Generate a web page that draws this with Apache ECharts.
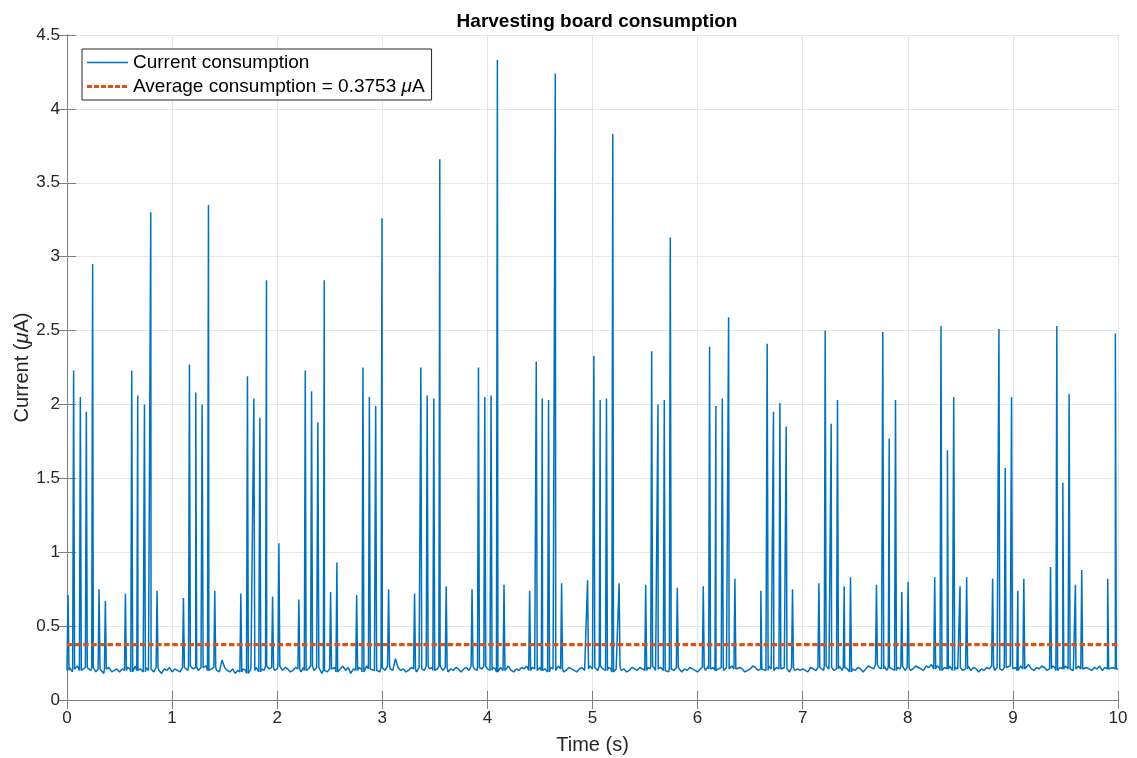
<!DOCTYPE html>
<html>
<head>
<meta charset="utf-8">
<script src="https://cdn.jsdelivr.net/npm/echarts@6/dist/echarts.min.js"></script>
<style>
html,body{margin:0;padding:0;background:#fff;}
#chart{width:1137px;height:758px;}
</style>
</head>
<body>
<div id="chart"></div>
<script>
// ---- Data ----
const averageValue = 0.3753;
const xTicks = [0,1,2,3,4,5,6,7,8,9,10];
const yTicks = [0,0.5,1,1.5,2,2.5,3,3.5,4,4.5];

// baseline (noise floor) samples, every 0.025 s from 0 to 10 s
const baseStep = 0.025;
const baseline = [
0.20,0.22,0.19,0.21,0.23,0.20,0.19,0.22,0.21,0.20,
0.22,0.19,0.21,0.20,0.18,0.21,0.22,0.19,0.20,0.21,
0.19,0.21,0.20,0.22,0.21,0.19,0.23,0.20,0.21,0.19,
0.22,0.20,0.21,0.19,0.22,0.20,0.18,0.21,0.20,0.22,
0.19,0.21,0.20,0.19,0.22,0.21,0.20,0.23,0.21,0.22,
0.20,0.22,0.21,0.23,0.20,0.21,0.22,0.20,0.19,0.27,
0.22,0.20,0.19,0.21,0.18,0.20,0.19,0.21,0.20,0.18,
0.21,0.20,0.22,0.19,0.21,0.20,0.23,0.21,0.22,0.20,
0.21,0.23,0.20,0.22,0.21,0.19,0.20,0.22,0.21,0.19,
0.22,0.20,0.21,0.23,0.20,0.22,0.21,0.18,0.20,0.19,
0.21,0.20,0.22,0.19,0.21,0.23,0.20,0.22,0.18,0.21,
0.20,0.22,0.21,0.19,0.23,0.21,0.22,0.20,0.21,0.19,
0.22,0.20,0.23,0.21,0.20,0.28,0.22,0.20,0.21,0.19,
0.20,0.22,0.21,0.19,0.22,0.21,0.20,0.23,0.21,0.22,
0.20,0.21,0.23,0.20,0.22,0.19,0.21,0.20,0.22,0.21,
0.19,0.21,0.22,0.20,0.23,0.21,0.20,0.22,0.21,0.23,
0.21,0.20,0.22,0.21,0.19,0.22,0.20,0.21,0.23,0.20,
0.19,0.21,0.20,0.22,0.21,0.23,0.20,0.22,0.21,0.20,
0.22,0.20,0.21,0.19,0.22,0.21,0.20,0.23,0.21,0.19,
0.20,0.22,0.21,0.20,0.19,0.21,0.22,0.20,0.21,0.23,
0.21,0.22,0.20,0.23,0.21,0.20,0.22,0.21,0.19,0.21,
0.22,0.20,0.21,0.19,0.20,0.22,0.21,0.20,0.22,0.21,
0.20,0.22,0.21,0.23,0.20,0.21,0.22,0.20,0.21,0.19,
0.21,0.20,0.22,0.21,0.19,0.21,0.20,0.22,0.21,0.20,
0.19,0.21,0.22,0.20,0.23,0.21,0.22,0.20,0.21,0.22,
0.20,0.22,0.21,0.23,0.21,0.20,0.22,0.21,0.19,0.20,
0.21,0.23,0.22,0.20,0.21,0.22,0.20,0.23,0.21,0.20,
0.22,0.21,0.20,0.22,0.21,0.19,0.22,0.20,0.21,0.20,
0.21,0.20,0.19,0.22,0.21,0.20,0.22,0.21,0.20,0.23,
0.21,0.22,0.20,0.21,0.23,0.20,0.22,0.21,0.19,0.21,
0.20,0.22,0.21,0.19,0.21,0.23,0.22,0.21,0.24,0.22,
0.21,0.23,0.20,0.22,0.21,0.20,0.22,0.21,0.23,0.20,
0.22,0.20,0.21,0.23,0.22,0.21,0.20,0.23,0.22,0.24,
0.21,0.23,0.22,0.20,0.22,0.21,0.23,0.20,0.22,0.21,
0.22,0.20,0.21,0.23,0.20,0.22,0.21,0.19,0.21,0.20,
0.22,0.21,0.23,0.20,0.22,0.21,0.20,0.22,0.21,0.23,
0.21,0.22,0.20,0.23,0.21,0.22,0.24,0.21,0.20,0.22,
0.21,0.23,0.22,0.20,0.21,0.23,0.22,0.20,0.22,0.21,
0.23,0.21,0.22,0.20,0.21,0.23,0.21,0.20,0.22,0.21,
0.20,0.22,0.21,0.23,0.20,0.22,0.21,0.20,0.22,0.21,
0.21
];

// spike peak times (s)
const spikeTimes = [
0.010,0.063,0.127,0.184,0.244,0.305,0.365,
0.556,0.616,0.673,0.737,0.797,0.857,
1.108,1.165,1.225,1.286,1.346,1.406,
1.654,1.717,1.778,1.835,1.898,1.956,2.016,
2.206,2.267,2.327,2.387,2.448,2.508,2.568,
2.756,2.816,2.877,2.937,2.997,3.060,
3.307,3.367,3.427,3.490,3.547,3.608,
3.854,3.915,3.975,4.035,4.095,4.158,
4.402,4.465,4.522,4.582,4.646,4.706,
4.953,5.013,5.073,5.133,5.193,5.253,
5.506,5.563,5.623,5.683,5.740,5.807,
6.054,6.114,6.174,6.235,6.295,6.355,
6.602,6.662,6.722,6.783,6.843,6.903,
7.154,7.214,7.271,7.331,7.395,7.455,
7.702,7.762,7.823,7.883,7.943,8.003,
8.256,8.316,8.377,8.437,8.497,8.560,
8.807,8.867,8.927,8.987,9.047,9.104,
9.358,9.418,9.475,9.535,9.595,9.655,
9.902,9.975
];
// spike peak values (µA)
const spikePeaks = [
0.71,2.23,2.05,1.95,2.95,0.75,0.67,
0.72,2.23,2.06,2.00,3.30,0.74,
0.69,2.27,2.08,2.00,3.35,0.74,
0.72,2.19,2.04,1.91,2.84,0.70,1.06,
0.68,2.23,2.09,1.88,2.84,0.73,0.93,
0.71,2.25,2.05,1.99,3.26,0.75,
0.72,2.25,2.06,2.04,3.66,0.77,
0.75,2.25,2.05,2.06,4.33,0.78,
0.74,2.29,2.04,2.03,4.24,0.79,
0.81,2.33,2.03,2.04,3.83,0.79,
0.78,2.36,2.00,2.03,3.13,0.76,
0.77,2.39,1.99,2.04,2.59,0.82,
0.74,2.41,1.95,2.01,1.85,0.75,
0.79,2.50,1.87,2.03,0.77,0.83,
0.78,2.49,1.77,2.03,0.73,0.80,
0.83,2.53,1.69,2.05,0.77,0.83,
0.82,2.51,1.57,2.05,0.74,0.82,
0.90,2.53,1.47,2.07,0.78,0.88,
0.82,2.48
];

const seriesNames = ['Current consumption', 'Average consumption = 0.3753 μA'];

// ---- Build the polyline from the arrays ----
const halfWidth = 0.009;
const pts = [];
baseline.forEach((v, i) => pts.push([+(i * baseStep).toFixed(3), v]));
spikeTimes.forEach((t, i) => {
  const foot = baseline[Math.min(baseline.length - 1, Math.round(t / baseStep))];
  pts.push([Math.max(0, t - halfWidth), foot]);
  pts.push([t, spikePeaks[i]]);
  pts.push([Math.min(10, t + halfWidth), foot]);
});
pts.sort((a, b) => a[0] - b[0]);

const FONT = '"Liberation Sans", Arial, Helvetica, sans-serif';
const TXT = '#262626';
const BOX = '#808080';
const BLUE = '#0072BD';
const ORANGE = '#D95319';

// legend icons (41 x 14 boxes)
const solidIcon = 'path://M0,0M41,14M0,6.2h41v1.6h-41z';
const dashIcon = 'path://M0,0M41,14M0,5.5h5v3h-5zM7,5.5h5v3h-5zM14,5.5h5v3h-5zM21,5.5h5v3h-5zM28,5.5h5v3h-5zM35,5.5h5v3h-5z';

const chart = echarts.init(document.getElementById('chart'), null, {renderer: 'canvas'});
chart.setOption({
  animation: false,
  backgroundColor: '#fff',
  title: {
    text: 'Harvesting board consumption',
    left: 592, top: 7, textAlign: 'center',
    textStyle: {fontFamily: FONT, fontSize: 19, fontWeight: 'bold', color: '#000'}
  },
  legend: {
    orient: 'vertical', left: 82, top: 49,
    padding: [4, 7, 4, 5], itemGap: 5,
    itemWidth: 41, itemHeight: 14,
    borderColor: '#262626', borderWidth: 1, backgroundColor: '#fff',
    itemStyle: {borderWidth: 0},
    data: [{name: seriesNames[0], icon: solidIcon}, {name: seriesNames[1], icon: dashIcon}],
    formatter: function (name) {
      if (name === seriesNames[1]) return '{n|Average consumption = 0.3753 }{i|μ}{n|A}';
      return '{n|' + name + '}';
    },
    textStyle: {
      fontFamily: FONT, fontSize: 19, color: '#000',
      rich: {
        n: {fontFamily: FONT, fontSize: 19, color: '#000'},
        i: {fontFamily: FONT, fontSize: 19, color: '#000', fontStyle: 'italic'}
      }
    }
  },
  grid: {left: 67, right: 19, top: 35, bottom: 58, containLabel: false, outerBoundsMode: 'none'},
  xAxis: [{
    type: 'value', min: xTicks[0], max: xTicks[xTicks.length - 1], interval: 1,
    name: 'Time (s)', nameLocation: 'middle', nameGap: 35, nameMoveOverlap: false,
    nameTextStyle: {fontFamily: FONT, fontSize: 20, color: TXT},
    axisLine: {show: true, lineStyle: {color: BOX, width: 1}},
    axisTick: {show: true, inside: true, length: 9, lineStyle: {color: BOX}},
    axisLabel: {fontFamily: FONT, fontSize: 17, color: TXT, margin: 10},
    splitLine: {show: true, lineStyle: {color: '#e6e6e6', width: 1}}
  }, {
    type: 'value', position: 'top', min: xTicks[0], max: xTicks[xTicks.length - 1], interval: 1,
    axisLine: {show: true, lineStyle: {color: BOX, width: 1}},
    axisTick: {show: true, inside: true, length: 9, lineStyle: {color: BOX}},
    axisLabel: {show: false}, splitLine: {show: false}
  }],
  yAxis: [{
    type: 'value', min: yTicks[0], max: yTicks[yTicks.length - 1], interval: 0.5,
    name: '{n|Current (}{i|μ}{n|A)}', nameLocation: 'middle', nameGap: 35, nameMoveOverlap: false,
    nameTextStyle: {
      fontFamily: FONT, fontSize: 20, color: TXT,
      rich: {
        n: {fontFamily: FONT, fontSize: 20, color: TXT},
        i: {fontFamily: FONT, fontSize: 20, color: TXT, fontStyle: 'italic'}
      }
    },
    axisLine: {show: true, lineStyle: {color: BOX, width: 1}},
    axisTick: {show: true, inside: true, length: 9, lineStyle: {color: BOX}},
    axisLabel: {fontFamily: FONT, fontSize: 17, color: TXT, margin: 7},
    splitLine: {show: true, lineStyle: {color: '#e6e6e6', width: 1}}
  }, {
    type: 'value', position: 'right', min: yTicks[0], max: yTicks[yTicks.length - 1], interval: 0.5,
    axisLine: {show: true, lineStyle: {color: BOX, width: 1}},
    axisTick: {show: true, inside: true, length: 9, lineStyle: {color: BOX}},
    axisLabel: {show: false}, splitLine: {show: false}
  }],
  series: [{
    name: seriesNames[0], type: 'line', data: pts,
    xAxisIndex: 0, yAxisIndex: 0,
    symbol: 'none', showSymbol: false, sampling: 'none',
    lineStyle: {color: BLUE, width: 1.5},
    itemStyle: {color: BLUE, borderWidth: 0},
    z: 3
  }, {
    name: seriesNames[1], type: 'line',
    data: [[xTicks[0], averageValue], [xTicks[xTicks.length - 1], averageValue]],
    xAxisIndex: 0, yAxisIndex: 0,
    symbol: 'none', showSymbol: false,
    lineStyle: {color: ORANGE, width: 3.2, type: [5.5, 2.6]},
    itemStyle: {color: ORANGE, borderWidth: 0},
    z: 4
  }]
});
</script>
</body>
</html>
